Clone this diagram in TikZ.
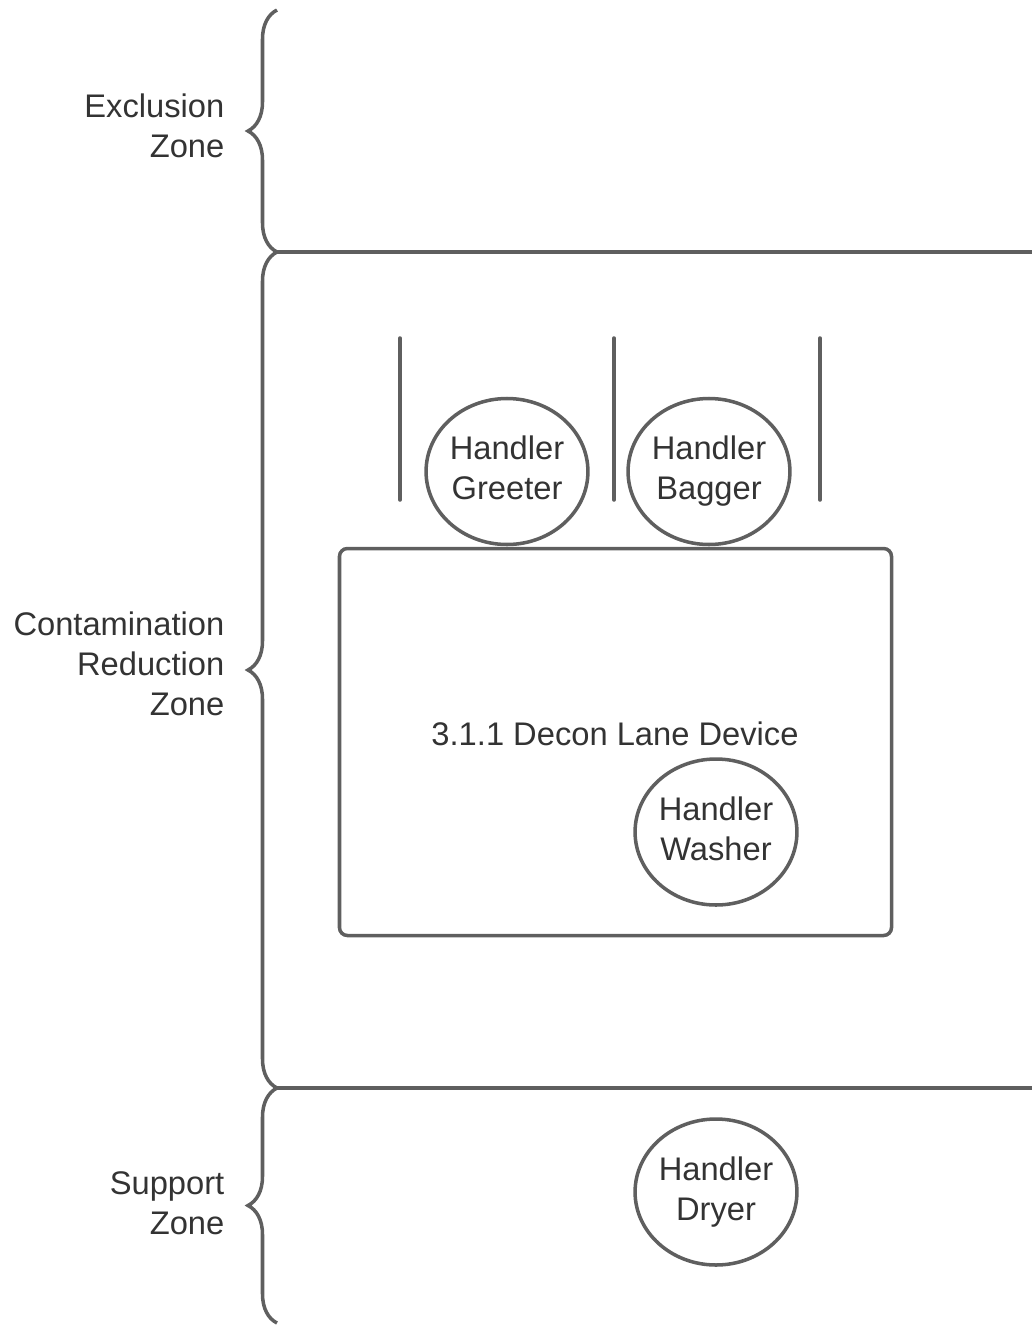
\documentclass[tikz,border=0pt]{standalone}
\usepackage{fontspec}
\setmainfont{Liberation Sans}
\usetikzlibrary{decorations.pathreplacing,shapes.geometric}
\definecolor{linegray}{RGB}{95,95,95}
\definecolor{textgray}{RGB}{51,51,51}

\begin{document}
\begin{tikzpicture}[
    every node/.style={text=textgray, font=\fontsize{18.6}{22.7}\selectfont},
    handler/.style={draw=linegray, ellipse, line width=2pt, align=center,
        minimum width=3.08cm, minimum height=2.92cm, inner sep=0pt,
        execute at end node=\rule[-3.9pt]{0pt}{0pt}},
    device/.style={draw=linegray, rounded corners=4.5pt, line width=2pt,
        minimum width=11.04cm, minimum height=7.74cm},
    zone/.style={align=right, anchor=east},
    wall/.style={draw=linegray, line width=2pt},
    zonebrace/.style={decorate, decoration={brace, amplitude=0.58cm},
        draw=linegray, line width=2pt}
]
    \useasboundingbox (0, 0) rectangle (20.64, -26.52);

    % zone braces and borders
    \draw[zonebrace] (5.54, -5.04) -- (5.54, -0.20);
    \draw[zonebrace] (5.54, -21.76) -- (5.54, -5.04);
    \draw[zonebrace] (5.54, -26.46) -- (5.54, -21.76);
    \draw[wall] (5.54, -5.04) -- (20.70, -5.04);
    \draw[wall] (5.54, -21.76) -- (20.70, -21.76);

    \node[zone] (exclusion) at (4.61, -2.52) {Exclusion\\Zone};
    \node[zone] (reduction) at (4.61, -13.28)
        {Contamination\\Reduction\\Zone};
    \node[zone] (support) at (4.61, -24.06) {Support\\Zone};

    % decon lane
    \node[device] (lane) at (12.31, -14.84) {};
    \node (lane_label) at (12.30, -14.68) {3.1.1 Decon Lane Device};

    \foreach \x in {8.00, 12.28, 16.40} {
        \draw[wall, line cap=round] (\x, -6.76) -- (\x, -10.00);
    }

    \node[handler] (greeter) at (10.14, -9.43) {Handler\\Greeter};
    \node[handler] (bagger) at (14.18, -9.43) {Handler\\Bagger};
    \node[handler] (washer) at (14.32, -16.64) {Handler\\Washer};
    \node[handler] (dryer) at (14.32, -23.84) {Handler\\Dryer};
\end{tikzpicture}
\end{document}
